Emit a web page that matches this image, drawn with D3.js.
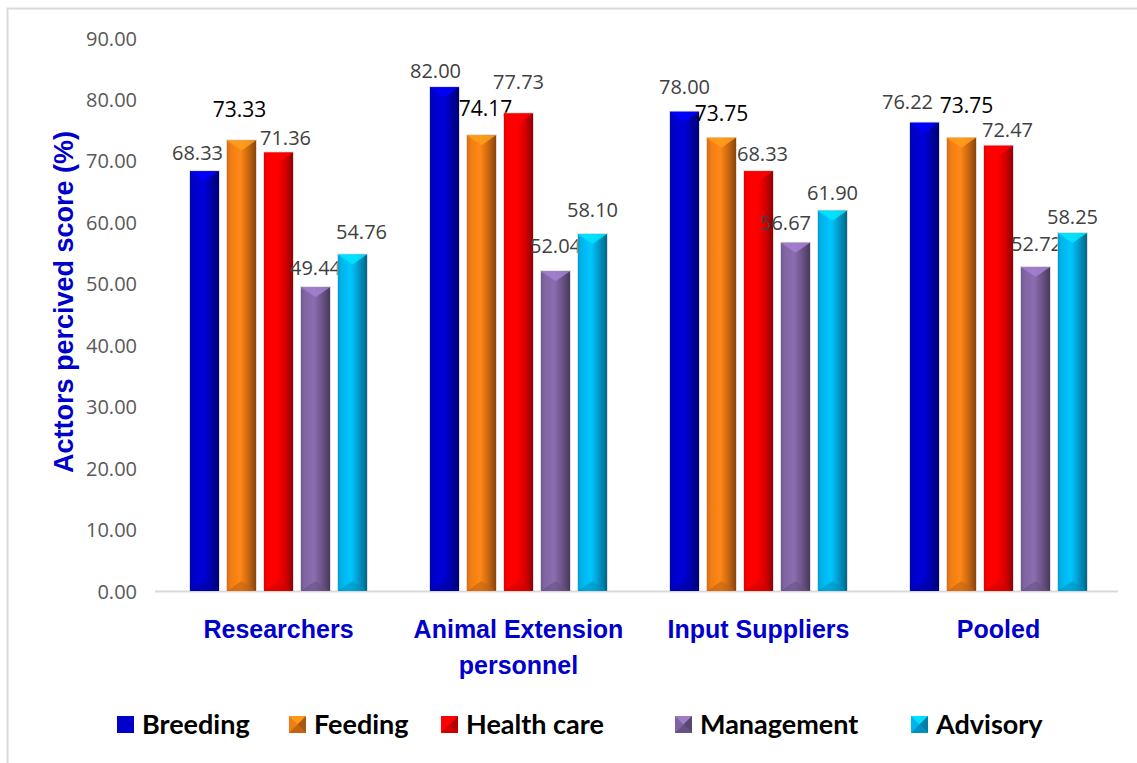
<!DOCTYPE html>
<html><head><meta charset="utf-8">
<script src="https://cdn.jsdelivr.net/npm/d3@7"></script>
<style>html,body{margin:0;padding:0;background:#fff;}svg{display:block;}</style>
</head><body>
<svg id="c" width="1137" height="763"></svg>
<script>
// ---- data ----
const categories = [["Researchers"], ["Animal Extension", "personnel"], ["Input Suppliers"], ["Pooled"]];
const series = ["Breeding", "Feeding", "Health care", "Management", "Advisory"];
const breeding   = [68.33, 82.00, 78.00, 76.22];
const feeding    = [73.33, 74.17, 73.75, 73.75];
const healthCare = [71.36, 77.73, 68.33, 72.47];
const management = [49.44, 52.04, 56.67, 52.72];
const advisory   = [54.76, 58.10, 61.90, 58.25];
const yTicks = [0, 10, 20, 30, 40, 50, 60, 70, 80, 90];
const yTitle = "Acttors percived score (%)";

// ---- layout / style (not data) ----
const colors = ["#0000C8", "#F07C14", "#FF0000", "#8064A2", "#00B4EC"];
// label nudges [dx, dy] relative to bar centre / bar top (label centre)
const labelNudge = [
  [[-7,-19],[-2,-31],[7,-15],[0,-20],[9,-23]],
  [[-9,-17],[4,-27],[0,-32],[0,-26],[0,-25]],
  [[0,-25],[0,-25],[4,-18],[-10,-20],[0,-18]],
  [[-17,-21],[5,-33],[9,-16],[1,-24],[0,-17]]
];
const legendX = [117, 289, 441, 675, 911];

const values = [breeding, feeding, healthCare, management, advisory];
const svg = d3.select("#c");

// frame
svg.append("path").attr("d", "M7.5,763 L7.5,8.5 L1137,8.5")
  .attr("fill", "none").attr("stroke", "#d9d9d9").attr("stroke-width", 2);

const x0 = d3.scaleBand().domain(d3.range(categories.length)).range([158.5, 1118.5]).padding(0);
const x1 = d3.scaleBand().domain(d3.range(series.length)).range([31.5, 208.5]).paddingInner(8/37).paddingOuter(0);
const y = d3.scaleLinear().domain([0, 90]).range([591, 38]);

// gradients
const defs = svg.append("defs");
colors.forEach((c, i) => {
  const base = d3.color(c);
  const g = defs.append("linearGradient").attr("id", "g" + i).attr("x1", "0").attr("x2", "1").attr("y1", "0").attr("y2", "0");
  const stops = [
    [0, base.darker(0.35)], [0.12, base], [0.45, base.brighter(0.25)],
    [0.7, base.darker(0.4)], [1, base.darker(1.6)]
  ];
  stops.forEach(s => g.append("stop").attr("offset", s[0]).attr("stop-color", s[1].formatHex()));
});

// baseline
svg.append("line").attr("x1", 155).attr("x2", 1118).attr("y1", y(0) + 0.5).attr("y2", y(0) + 0.5)
  .attr("stroke", "#d9d9d9").attr("stroke-width", 2);

// y axis tick labels
const yAxis = d3.axisLeft(y).tickValues(yTicks).tickFormat(d3.format(".2f")).tickSize(0).tickPadding(0);
const ya = svg.append("g").attr("transform", "translate(137,0)").call(yAxis);
ya.select(".domain").remove();
ya.selectAll("text").attr("font-family", "'Open Sans', sans-serif").attr("font-size", 20)
  .attr("fill", "#595959").attr("dy", "0.35em");

// y title
svg.append("text").attr("transform", "translate(73,302) rotate(-90)").attr("text-anchor", "middle")
  .attr("font-family", "'Liberation Sans', Arial, sans-serif").attr("font-weight", "bold")
  .attr("font-size", 27).attr("fill", "#0000CC").text(yTitle);

// bars
const groups = svg.append("g").selectAll("g").data(categories).join("g")
  .attr("transform", (d, ci) => `translate(${x0(ci)},0)`);

groups.each(function(cat, ci) {
  const g = d3.select(this);
  series.forEach((s, si) => {
    const v = values[si][ci];
    const bx = x1(si), bw = x1.bandwidth(), top = y(v), bot = y(0);
    const base = d3.color(colors[si]);
    const bev = Math.min(10, bw / 2.8);
    g.append("rect").attr("x", bx - 1).attr("y", top - 1).attr("width", bw + 2).attr("height", bot - top + 1)
      .attr("fill", "#c8c8c8").attr("opacity", 0.6);
    g.append("rect").attr("x", bx).attr("y", top).attr("width", bw).attr("height", bot - top)
      .attr("fill", `url(#g${si})`);
    // top bevel
    g.append("path").attr("d", `M${bx},${top}L${bx + bw},${top}L${bx + bw / 2},${top + bev}Z`)
      .attr("fill", base.brighter(0.7).formatHex()).attr("opacity", 0.85);
    g.append("path").attr("d", `M${bx},${top}L${bx + bw / 2},${top + bev}L${bx + bw / 2},${top + bev + 1}L${bx},${top + 1.5}Z`)
      .attr("fill", base.brighter(0.3).formatHex()).attr("opacity", 0.5);
    // bottom bevel
    g.append("path").attr("d", `M${bx},${bot}L${bx + bw},${bot}L${bx + bw / 2},${bot - bev}Z`)
      .attr("fill", base.darker(0.6).formatHex()).attr("opacity", 0.6);
    // value label
    const nd = labelNudge[ci][si];
    const black = si === 1;
    g.append("text").attr("x", bx + bw / 2 + nd[0]).attr("y", top + nd[1])
      .attr("text-anchor", "middle").attr("dominant-baseline", "central")
      .attr("font-family", "'Open Sans', sans-serif").attr("font-size", black ? 21 : 20)
      .attr("fill", black ? "#000000" : "#404040").text(d3.format(".2f")(v));
  });
  // category label
  const t = g.append("text").attr("text-anchor", "middle")
    .attr("font-family", "'Liberation Sans', Arial, sans-serif").attr("font-weight", "bold")
    .attr("font-size", 25).attr("fill", "#0000CC");
  cat.forEach((line, li) => {
    t.append("tspan").attr("x", x0.bandwidth() / 2).attr("y", 638 + li * 36).text(line);
  });
});

// legend
const leg = svg.append("g");
series.forEach((s, si) => {
  const base = d3.color(colors[si]);
  const sq = 17, ly = 716, lx = legendX[si];
  const it = leg.append("g");
  it.append("rect").attr("x", lx).attr("y", ly).attr("width", sq).attr("height", sq).attr("fill", base.formatHex());
  if (si > 0) {
    it.append("path").attr("d", `M${lx},${ly}L${lx + sq},${ly}L${lx + sq / 2},${ly + sq / 2}Z`).attr("fill", base.brighter(0.6).formatHex());
    it.append("path").attr("d", `M${lx + sq},${ly}L${lx + sq},${ly + sq}L${lx + sq / 2},${ly + sq / 2}Z`).attr("fill", base.darker(1.0).formatHex());
    it.append("path").attr("d", `M${lx},${ly + sq}L${lx + sq},${ly + sq}L${lx + sq / 2},${ly + sq / 2}Z`).attr("fill", base.darker(0.6).formatHex());
  }
  it.append("text").attr("x", lx + sq + 8).attr("y", ly + sq + 1)
    .attr("font-family", "Lato, 'Open Sans', sans-serif").attr("font-weight", "bold")
    .attr("font-size", 27).attr("fill", "#000").text(s);
});
</script>
</body></html>
